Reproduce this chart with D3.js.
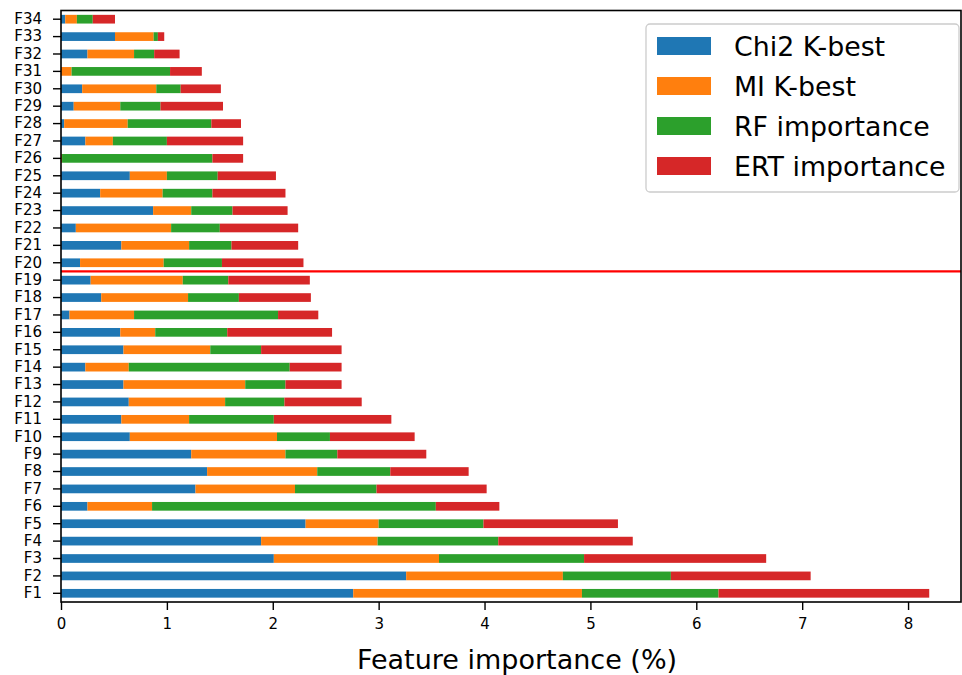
<!DOCTYPE html>
<html>
<head>
<meta charset="utf-8">
<script src="https://cdn.jsdelivr.net/npm/d3@7"></script>
<style>
  html, body { margin: 0; padding: 0; background: #fff; }
  svg { display: block; font-family: "DejaVu Sans", sans-serif; }
</style>
</head>
<body>
<svg id="chart" width="962" height="675"></svg>
<script>
const categories = ["F1","F2","F3","F4","F5","F6","F7","F8","F9","F10","F11","F12","F13","F14","F15","F16","F17","F18","F19","F20","F21","F22","F23","F24","F25","F26","F27","F28","F29","F30","F31","F32","F33","F34"];
const chi2 = [2.76, 3.26, 2.01, 1.89, 2.31, 0.25, 1.27, 1.38, 1.23, 0.65, 0.57, 0.64, 0.59, 0.23, 0.59, 0.56, 0.08, 0.38, 0.28, 0.18, 0.57, 0.14, 0.87, 0.37, 0.65, 0.00, 0.23, 0.03, 0.12, 0.20, 0.00, 0.25, 0.51, 0.04];
const mi   = [2.16, 1.48, 1.56, 1.10, 0.69, 0.61, 0.94, 1.04, 0.89, 1.39, 0.64, 0.91, 1.15, 0.41, 0.82, 0.33, 0.61, 0.82, 0.87, 0.79, 0.64, 0.90, 0.36, 0.59, 0.35, 0.01, 0.26, 0.60, 0.44, 0.70, 0.10, 0.44, 0.365, 0.11];
const rf   = [1.29, 1.02, 1.37, 1.14, 0.99, 2.68, 0.77, 0.69, 0.49, 0.50, 0.80, 0.56, 0.38, 1.52, 0.48, 0.68, 1.36, 0.48, 0.43, 0.55, 0.40, 0.46, 0.39, 0.47, 0.48, 1.42, 0.51, 0.79, 0.38, 0.23, 0.93, 0.19, 0.04, 0.15];
const ert  = [1.99, 1.32, 1.72, 1.27, 1.27, 0.60, 1.04, 0.74, 0.84, 0.80, 1.11, 0.73, 0.53, 0.49, 0.76, 0.99, 0.38, 0.68, 0.77, 0.77, 0.63, 0.74, 0.52, 0.69, 0.55, 0.29, 0.72, 0.28, 0.59, 0.38, 0.30, 0.24, 0.06, 0.21];
const seriesNames = ["Chi2 K-best", "MI K-best", "RF importance", "ERT importance"];
const xTicks = [0, 1, 2, 3, 4, 5, 6, 7, 8];
const xLabel = "Feature importance (%)";
const thresholdBetween = ["F19", "F20"];

const colors = ["#1f77b4", "#ff7f0e", "#2ca02c", "#d62728"];
const keys = ["chi2", "mi", "rf", "ert"];
const table = categories.map((c, i) => ({cat: c, chi2: chi2[i], mi: mi[i], rf: rf[i], ert: ert[i]}));

const svg = d3.select("#chart");
const L = 61, R = 961, T = 10.5, B = 602;

const x = d3.scaleLinear().domain([0, 8.5]).range([L, R]);
const y = d3.scaleBand().domain(categories).range([B, T]).paddingInner(0.5).paddingOuter(0.25);

const stacked = d3.stack().keys(keys)(table);

const g = svg.append("g");
stacked.forEach((layer, li) => {
  g.append("g").attr("fill", colors[li])
    .selectAll("rect").data(layer).join("rect")
    .attr("x", d => x(d[0]))
    .attr("width", d => Math.max(0, x(d[1]) - x(d[0])))
    .attr("y", d => y(d.data.cat))
    .attr("height", y.bandwidth());
});

// threshold red line
const yLine = (y(thresholdBetween[0]) + y(thresholdBetween[1])) / 2 + y.bandwidth() / 2;
svg.append("line")
  .attr("x1", L).attr("x2", R)
  .attr("y1", yLine).attr("y2", yLine)
  .attr("stroke", "#ff0000").attr("stroke-width", 2.2);

// axes
const xAxis = d3.axisBottom(x).tickValues(xTicks).tickFormat(d3.format("d")).tickSize(8).tickPadding(8);
const gx = svg.append("g").attr("transform", `translate(0,${B})`).call(xAxis);
gx.select(".domain").remove();
gx.selectAll(".tick line").attr("stroke", "#000").attr("stroke-width", 1.4);
gx.selectAll(".tick text").attr("font-size", 15).attr("font-family", "DejaVu Sans").attr("fill", "#000");

const yAxis = d3.axisLeft(y).tickSize(8).tickPadding(11);
const gy = svg.append("g").attr("transform", `translate(${L},0)`).call(yAxis);
gy.select(".domain").remove();
gy.selectAll(".tick line").attr("stroke", "#000").attr("stroke-width", 1.4);
gy.selectAll(".tick text").attr("font-size", 15).attr("font-family", "DejaVu Sans").attr("fill", "#000");

// spines
svg.append("rect")
  .attr("x", L).attr("y", T).attr("width", R - L).attr("height", B - T)
  .attr("fill", "none").attr("stroke", "#000").attr("stroke-width", 1.6);

// x label
svg.append("text")
  .attr("x", (L + R) / 2 + 6).attr("y", 669)
  .attr("text-anchor", "middle")
  .attr("font-size", 27)
  .attr("fill", "#000")
  .text(xLabel);

// legend
const lg = svg.append("g");
lg.append("rect")
  .attr("x", 646).attr("y", 24).attr("width", 313).attr("height", 168)
  .attr("rx", 4).attr("fill", "#fff").attr("fill-opacity", 0.8)
  .attr("stroke", "#cccccc").attr("stroke-width", 1.3);
seriesNames.forEach((name, i) => {
  const cy = 46 + i * 40;
  lg.append("rect").attr("x", 657).attr("y", cy - 9).attr("width", 54).attr("height", 18).attr("fill", colors[i]);
  lg.append("text").attr("x", 734).attr("y", cy).attr("dy", "0.36em")
    .attr("font-size", 26.8).attr("fill", "#000").text(name);
});
</script>
</body>
</html>
